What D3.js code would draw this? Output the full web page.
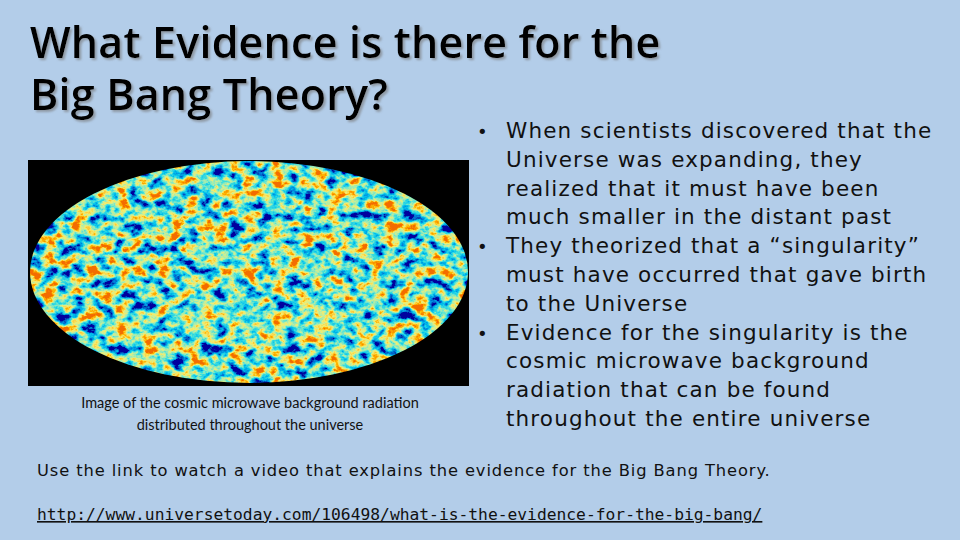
<!DOCTYPE html>
<html><head><meta charset="utf-8">
<script src="https://cdn.jsdelivr.net/npm/d3@7"></script>
<style>body{margin:0;}svg{display:block;}</style>
</head><body>
<script>
var titleLines = ["What Evidence is there for the", "Big Bang Theory?"];
var captionLines = ["Image of the cosmic microwave background radiation", "distributed throughout the universe"];
var bullets = [
  ["When scientists discovered that the", "Universe was expanding, they", "realized that it must have been", "much smaller in the distant past"],
  ["They theorized that a \u201csingularity\u201d", "must have occurred that gave birth", "to the Universe"],
  ["Evidence for the singularity is the", "cosmic microwave background", "radiation that can be found", "throughout the entire universe"]
];
var footer = "Use the link to watch a video that explains the evidence for the Big Bang Theory.";
var link = "http://www.universetoday.com/106498/what-is-the-evidence-for-the-big-bang/";

var svg = d3.select('body').append('svg').attr('width', 960).attr('height', 540);
svg.append('rect').attr('width', 960).attr('height', 540).attr('fill', '#b3cde9');

var defs = svg.append('defs');
var sh = defs.append('filter').attr('id', 'shadow');
sh.append('feDropShadow').attr('dx', 2).attr('dy', 2).attr('stdDeviation', 1).attr('flood-color', '#777').attr('flood-opacity', 0.6);

var cmb = defs.append('filter').attr('id', 'cmb').attr('x', 0).attr('y', 0).attr('width', 1).attr('height', 1);
cmb.append('feTurbulence').attr('type', 'fractalNoise').attr('baseFrequency', '0.07 0.09').attr('numOctaves', 4).attr('seed', 7).attr('result', 'n');
cmb.append('feColorMatrix').attr('in', 'n').attr('type', 'matrix')
  .attr('values', '2.2 0 0 0 -0.6  2.2 0 0 0 -0.6  2.2 0 0 0 -0.6  0 0 0 0 1').attr('result', 'g');
var ct = cmb.append('feComponentTransfer').attr('in', 'g');
ct.append('feFuncR').attr('type', 'table').attr('tableValues', '0 0 0 0.05 0.4 0.9 1 0.9');
ct.append('feFuncG').attr('type', 'table').attr('tableValues', '0 0.2 0.55 0.75 0.85 0.85 0.5 0.15');
ct.append('feFuncB').attr('type', 'table').attr('tableValues', '0.35 0.7 0.85 0.7 0.4 0.15 0 0');

defs.append('clipPath').attr('id', 'ell').append('ellipse')
  .attr('cx', 249).attr('cy', 272).attr('rx', 219).attr('ry', 111);

svg.append('rect').attr('x', 28).attr('y', 160).attr('width', 441).attr('height', 226).attr('fill', '#000');
svg.append('rect').attr('x', 30).attr('y', 161).attr('width', 438).attr('height', 222)
  .attr('filter', 'url(#cmb)').attr('clip-path', 'url(#ell)');

svg.selectAll('.title').data(titleLines).enter().append('text')
  .attr('x', 30).attr('y', function(d, i) { return 58 + i * 52; })
  .attr('font-family', 'Open Sans').attr('font-weight', 600).attr('font-size', 43).attr('letter-spacing', 0.2)
  .attr('fill', '#000').attr('filter', 'url(#shadow)').text(function(d) { return d; });

svg.selectAll('.cap').data(captionLines).enter().append('text')
  .attr('x', 250).attr('y', function(d, i) { return 408 + i * 22; })
  .attr('text-anchor', 'middle').attr('font-family', 'Lato').attr('font-size', 14.5)
  .attr('fill', '#111').text(function(d) { return d; });

var lineH = 28.8, y0 = 138, row = 0;
bullets.forEach(function(b) {
  svg.append('text').attr('x', 477).attr('y', y0 + row * lineH).attr('font-family', 'DejaVu Sans')
    .attr('font-size', 18).attr('fill', '#111').text('\u2022');
  b.forEach(function(l) {
    svg.append('text').attr('x', 506).attr('y', y0 + row * lineH)
      .attr('font-family', 'DejaVu Sans').attr('font-size', 21.5).attr('letter-spacing', 1.15)
      .attr('fill', '#111').text(l);
    row++;
  });
});

svg.append('text').attr('x', 37).attr('y', 476).attr('font-family', 'DejaVu Sans').attr('font-size', 16.3)
  .attr('letter-spacing', 0.9).attr('fill', '#111').text(footer);
svg.append('text').attr('x', 37).attr('y', 520).attr('font-family', 'DejaVu Sans Mono').attr('font-size', 16.3)
  .attr('text-decoration', 'underline').attr('fill', '#111').text(link);
</script>
</body></html>
